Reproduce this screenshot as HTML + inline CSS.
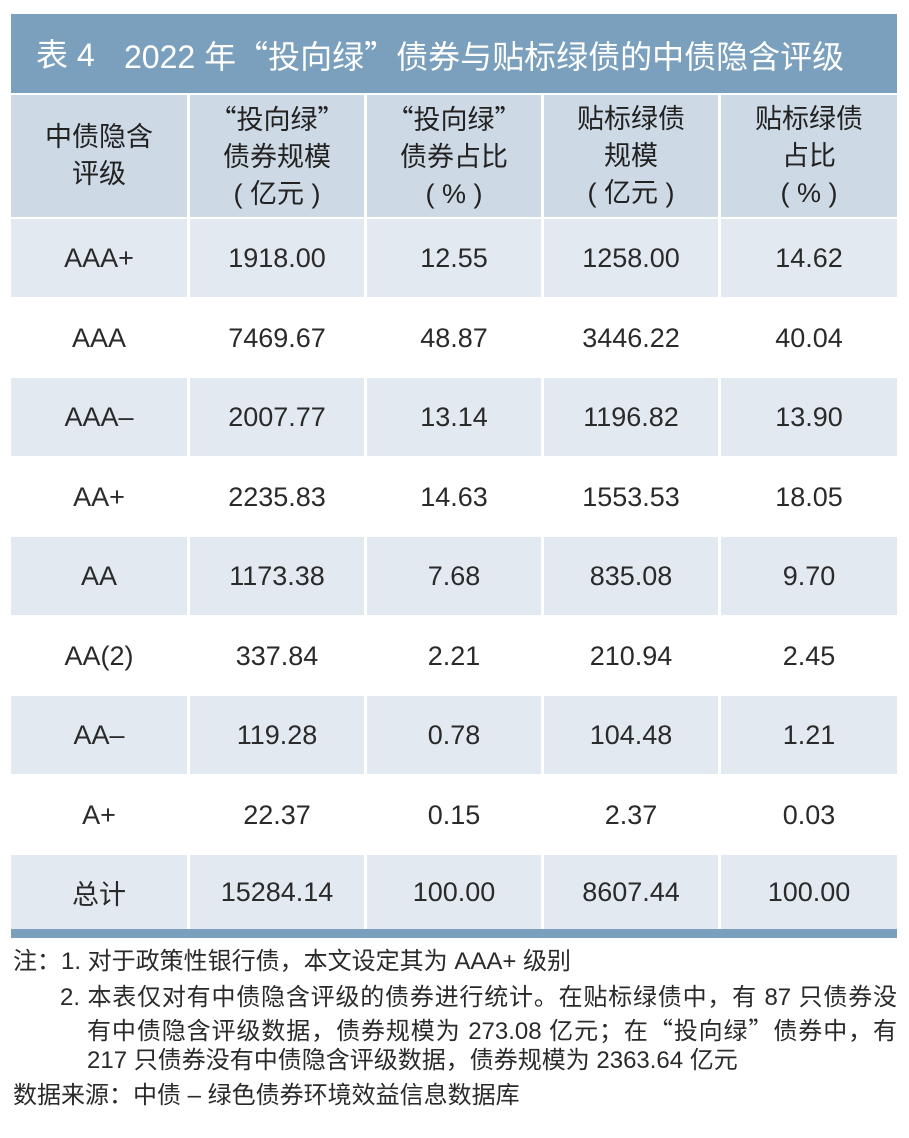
<!DOCTYPE html>
<html><head><meta charset="utf-8">
<style>
html,body{margin:0;padding:0;background:#fff;}
body{width:909px;height:1138px;position:relative;overflow:hidden;font-family:"Liberation Sans","Noto Sans CJK SC",sans-serif;color:#2a2a2a;}
.abs{position:absolute;}
.q{font-family:"Noto Sans CJK SC",sans-serif;}
.title{left:11px;top:14px;width:886px;height:79px;background:#7aa0be;}
.tt{position:absolute;color:#fff;font-size:32px;line-height:40px;top:21px;white-space:nowrap;}
.hd{position:absolute;top:95px;height:122px;background:#cdd9e4;display:flex;align-items:center;justify-content:center;text-align:center;font-size:27px;line-height:37px;color:#222;}
.rowbg{position:absolute;background:#e3e9f1;}
.cell{position:absolute;height:80px;display:flex;align-items:center;justify-content:center;font-size:27px;color:#2a2a2a;white-space:nowrap;}
.note{position:absolute;font-size:24px;line-height:30px;white-space:nowrap;color:#2a2a2a;}
.just{text-align:justify;text-align-last:justify;white-space:normal;}
</style></head><body>

<div class="abs title">
  <div class="tt" style="left:25px;">表 4</div>
  <div class="tt" style="left:113px;">2022 年<span class="q">“</span>投向绿<span class="q">”</span>债券与贴标绿债的中债隐含评级</div>
</div>

<div class="hd" style="left:11px;width:176px;"><div>中债隐含<br>评级</div></div>
<div class="hd" style="left:190px;width:174px;"><div><span class="q">“</span>投向绿<span class="q">”</span><br>债券规模<br>( 亿元 )</div></div>
<div class="hd" style="left:367px;width:174px;"><div><span class="q">“</span>投向绿<span class="q">”</span><br>债券占比<br>( % )</div></div>
<div class="hd" style="left:544px;width:174px;"><div>贴标绿债<br>规模<br>( 亿元 )</div></div>
<div class="hd" style="left:721px;width:176px;"><div>贴标绿债<br>占比<br>( % )</div></div>

<!-- shaded rows -->
<div class="rowbg" style="left:11px;top:219px;width:176px;height:78px;"></div>
<div class="rowbg" style="left:190px;top:219px;width:174px;height:78px;"></div>
<div class="rowbg" style="left:367px;top:219px;width:174px;height:78px;"></div>
<div class="rowbg" style="left:544px;top:219px;width:174px;height:78px;"></div>
<div class="rowbg" style="left:721px;top:219px;width:176px;height:78px;"></div>

<div class="rowbg" style="left:11px;top:378px;width:176px;height:78px;"></div>
<div class="rowbg" style="left:190px;top:378px;width:174px;height:78px;"></div>
<div class="rowbg" style="left:367px;top:378px;width:174px;height:78px;"></div>
<div class="rowbg" style="left:544px;top:378px;width:174px;height:78px;"></div>
<div class="rowbg" style="left:721px;top:378px;width:176px;height:78px;"></div>

<div class="rowbg" style="left:11px;top:537px;width:176px;height:78px;"></div>
<div class="rowbg" style="left:190px;top:537px;width:174px;height:78px;"></div>
<div class="rowbg" style="left:367px;top:537px;width:174px;height:78px;"></div>
<div class="rowbg" style="left:544px;top:537px;width:174px;height:78px;"></div>
<div class="rowbg" style="left:721px;top:537px;width:176px;height:78px;"></div>

<div class="rowbg" style="left:11px;top:696px;width:176px;height:78px;"></div>
<div class="rowbg" style="left:190px;top:696px;width:174px;height:78px;"></div>
<div class="rowbg" style="left:367px;top:696px;width:174px;height:78px;"></div>
<div class="rowbg" style="left:544px;top:696px;width:174px;height:78px;"></div>
<div class="rowbg" style="left:721px;top:696px;width:176px;height:78px;"></div>

<div class="rowbg" style="left:11px;top:855px;width:176px;height:74px;"></div>
<div class="rowbg" style="left:190px;top:855px;width:174px;height:74px;"></div>
<div class="rowbg" style="left:367px;top:855px;width:174px;height:74px;"></div>
<div class="rowbg" style="left:544px;top:855px;width:174px;height:74px;"></div>
<div class="rowbg" style="left:721px;top:855px;width:176px;height:74px;"></div>

<div class="abs" style="left:11px;top:929px;width:886px;height:9px;background:#7aa0be;"></div>

<!-- row 1 -->
<div class="cell" style="left:11px;top:218px;width:176px;">AAA+</div>
<div class="cell" style="left:190px;top:218px;width:174px;">1918.00</div>
<div class="cell" style="left:367px;top:218px;width:174px;">12.55</div>
<div class="cell" style="left:544px;top:218px;width:174px;">1258.00</div>
<div class="cell" style="left:721px;top:218px;width:176px;">14.62</div>
<!-- row 2 -->
<div class="cell" style="left:11px;top:298px;width:176px;">AAA</div>
<div class="cell" style="left:190px;top:298px;width:174px;">7469.67</div>
<div class="cell" style="left:367px;top:298px;width:174px;">48.87</div>
<div class="cell" style="left:544px;top:298px;width:174px;">3446.22</div>
<div class="cell" style="left:721px;top:298px;width:176px;">40.04</div>
<!-- row 3 -->
<div class="cell" style="left:11px;top:377px;width:176px;">AAA–</div>
<div class="cell" style="left:190px;top:377px;width:174px;">2007.77</div>
<div class="cell" style="left:367px;top:377px;width:174px;">13.14</div>
<div class="cell" style="left:544px;top:377px;width:174px;">1196.82</div>
<div class="cell" style="left:721px;top:377px;width:176px;">13.90</div>
<!-- row 4 -->
<div class="cell" style="left:11px;top:457px;width:176px;">AA+</div>
<div class="cell" style="left:190px;top:457px;width:174px;">2235.83</div>
<div class="cell" style="left:367px;top:457px;width:174px;">14.63</div>
<div class="cell" style="left:544px;top:457px;width:174px;">1553.53</div>
<div class="cell" style="left:721px;top:457px;width:176px;">18.05</div>
<!-- row 5 -->
<div class="cell" style="left:11px;top:536px;width:176px;">AA</div>
<div class="cell" style="left:190px;top:536px;width:174px;">1173.38</div>
<div class="cell" style="left:367px;top:536px;width:174px;">7.68</div>
<div class="cell" style="left:544px;top:536px;width:174px;">835.08</div>
<div class="cell" style="left:721px;top:536px;width:176px;">9.70</div>
<!-- row 6 -->
<div class="cell" style="left:11px;top:616px;width:176px;">AA(2)</div>
<div class="cell" style="left:190px;top:616px;width:174px;">337.84</div>
<div class="cell" style="left:367px;top:616px;width:174px;">2.21</div>
<div class="cell" style="left:544px;top:616px;width:174px;">210.94</div>
<div class="cell" style="left:721px;top:616px;width:176px;">2.45</div>
<!-- row 7 -->
<div class="cell" style="left:11px;top:695px;width:176px;">AA–</div>
<div class="cell" style="left:190px;top:695px;width:174px;">119.28</div>
<div class="cell" style="left:367px;top:695px;width:174px;">0.78</div>
<div class="cell" style="left:544px;top:695px;width:174px;">104.48</div>
<div class="cell" style="left:721px;top:695px;width:176px;">1.21</div>
<!-- row 8 -->
<div class="cell" style="left:11px;top:775px;width:176px;">A+</div>
<div class="cell" style="left:190px;top:775px;width:174px;">22.37</div>
<div class="cell" style="left:367px;top:775px;width:174px;">0.15</div>
<div class="cell" style="left:544px;top:775px;width:174px;">2.37</div>
<div class="cell" style="left:721px;top:775px;width:176px;">0.03</div>
<!-- total -->
<div class="cell" style="left:11px;top:852px;width:176px;">总计</div>
<div class="cell" style="left:190px;top:852px;width:174px;">15284.14</div>
<div class="cell" style="left:367px;top:852px;width:174px;">100.00</div>
<div class="cell" style="left:544px;top:852px;width:174px;">8607.44</div>
<div class="cell" style="left:721px;top:852px;width:176px;">100.00</div>

<!-- notes -->
<div class="note" style="left:13px;top:947px;">注：1. 对于政策性银行债，本文设定其为 AAA+ 级别</div>
<div class="note just" style="left:60px;top:983px;width:837px;">2. 本表仅对有中债隐含评级的债券进行统计。在贴标绿债中，有 87 只债券没</div>
<div class="note just" style="left:87px;top:1014px;width:810px;">有中债隐含评级数据，债券规模为 273.08 亿元；在<span class="q">“</span>投向绿<span class="q">”</span>债券中，有</div>
<div class="note" style="left:87px;top:1046px;">217 只债券没有中债隐含评级数据，债券规模为 2363.64 亿元</div>
<div class="note" style="left:13px;top:1081px;">数据来源：中债 – 绿色债券环境效益信息数据库</div>

</body></html>
